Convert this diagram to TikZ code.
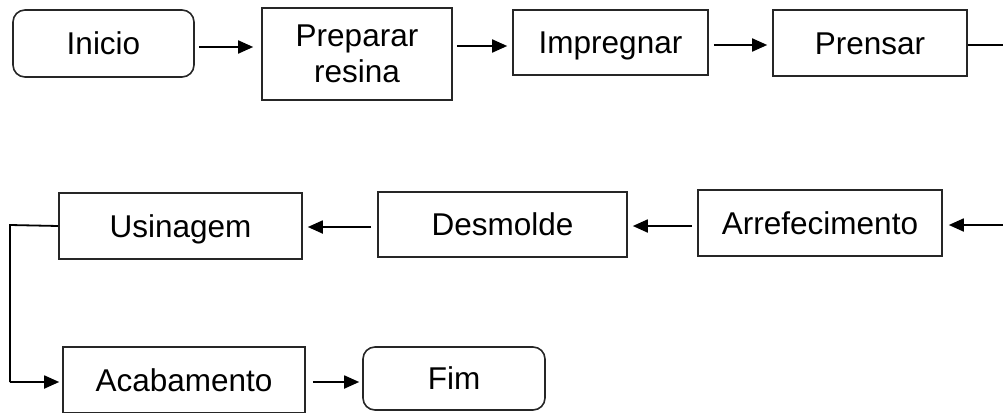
\documentclass[tikz,border=0pt]{standalone}
\usepackage{fontspec}
\setmainfont{Liberation Sans}
\usetikzlibrary{arrows.meta,calc}
\begin{document}
\begin{tikzpicture}[x=1pt,y=-1pt,
  basebox/.style={draw=black!85,line width=1.6pt,rectangle,align=center,inner sep=0pt,
    font=\fontsize{31.5}{36}\selectfont},
  box/.style={basebox,text height=22.6pt,text depth=0pt},
  rbox/.style={box,rounded corners=12pt},
  conn/.style={line width=1.8pt,-{Triangle[length=15pt,width=13pt]}},
  plain/.style={line width=1.8pt}]
\useasboundingbox (0,0) rectangle (1003,412);
% row 1
\node[rbox,minimum width=181pt,minimum height=67pt] (inicio) at (103.5,43.5) {Inicio};
\node[basebox,minimum width=190pt,minimum height=92pt] (prep) at (357,54) {Preparar\\resina};
\node[box,minimum width=195pt,minimum height=65pt] (impr) at (610.5,42.5) {Impregnar};
\node[box,minimum width=194pt,minimum height=66pt] (prens) at (870,43) {Prensar};
\coordinate (rout) at (1003,45);
% row 2
\node[box,minimum width=243pt,minimum height=66pt] (usin) at (180.5,226) {Usinagem};
\node[box,minimum width=249pt,minimum height=65pt] (desm) at (502.5,224.5) {Desmolde};
\node[box,minimum width=244pt,minimum height=66pt] (arref) at (820,223) {Arrefecimento};
\coordinate (rin) at (1003,225);
% row 3
\node[box,minimum width=242pt,minimum height=66pt] (acab) at (184,380) {Acabamento};
\node[rbox,minimum width=182pt,minimum height=63pt] (fim) at (454,378.5) {Fim};
\coordinate (c1) at (10,225);
\coordinate (c2) at (10,382);
% connectors
\draw[conn,shorten <=4pt,shorten >=8pt] (inicio.east |- 0,47) -- (prep.west |- 0,47);
\draw[conn,shorten <=4pt,shorten >=5pt] (prep.east |- 0,46) -- (impr.west |- 0,46);
\draw[conn,shorten <=5pt,shorten >=5pt] (impr.east |- 0,45) -- (prens.west |- 0,45);
\draw[plain] (prens.east |- rout) -- (rout);
\draw[conn,shorten >=6pt] (rin) -- (arref.east |- rin);
\draw[conn,shorten <=5pt,shorten >=5pt] (arref.west |- 0,226) -- (desm.east |- 0,226);
\draw[conn,shorten <=6pt,shorten >=5pt] (desm.west |- 0,227) -- (usin.east |- 0,227);
\draw[plain] (usin.west) -- (c1) -- (c2);
\draw[conn,shorten >=3pt] (c2) -- (acab.west |- c2);
\draw[conn,shorten <=7pt,shorten >=3pt] (acab.east |- 0,382) -- (fim.west |- 0,382);
\end{tikzpicture}
\end{document}
